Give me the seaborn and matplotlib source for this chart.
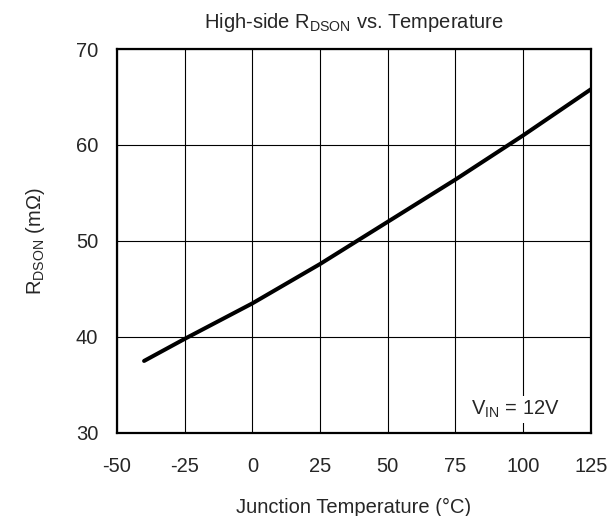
import pandas as pd
import seaborn as sns
import matplotlib.pyplot as plt

temps = [-40, -25, 0, 25, 50, 75, 100, 125]
rdson = [37.5, 39.8, 43.5, 47.6, 52.0, 56.4, 61.0, 65.8]
xticks = [-50, -25, 0, 25, 50, 75, 100, 125]
yticks = [30, 40, 50, 60, 70]

df = pd.DataFrame({'temp': temps, 'rdson': rdson})

sns.set_style('white')
plt.rcParams['font.family'] = ['Liberation Sans', 'DejaVu Sans']
plt.rcParams['mathtext.fontset'] = 'custom'
plt.rcParams['mathtext.rm'] = 'Liberation Sans'

FS = 14.5

fig = plt.figure(figsize=(6.11, 5.16), dpi=100)
ax = fig.add_axes([0.1915, 0.161, 0.7755, 0.744])

sns.lineplot(data=df, x='temp', y='rdson', color='black', linewidth=2.9, ax=ax)

ax.set_xlim(-50, 125)
ax.set_ylim(30, 70)
ax.set_xticks(xticks)
ax.set_yticks(yticks)
ax.set_xticklabels([str(t) for t in xticks], fontsize=FS)
ax.set_yticklabels([str(t) for t in yticks], fontsize=FS)
ax.tick_params(axis='x', length=0, pad=17)
ax.tick_params(axis='y', length=0, pad=13.5)
ax.grid(True, color='black', linewidth=0.8)
for s in ax.spines.values():
    s.set_color('black')
    s.set_linewidth(1.6)

ax.set_xlabel('Junction Temperature (°C)', fontsize=FS, labelpad=16)
ax.set_ylabel(r'R$_\mathregular{DSON}$ (mΩ)', fontsize=FS, labelpad=21)
ax.set_title(r'High-side R$_\mathregular{DSON}$ vs. Temperature', fontsize=FS, pad=15)

ax.text(113.5, 31.9, r'V$_\mathregular{IN}$ = 12V', fontsize=FS, ha='right', va='baseline',
        bbox=dict(facecolor='white', edgecolor='none', pad=2))

fig.savefig('out.png', dpi=100)
